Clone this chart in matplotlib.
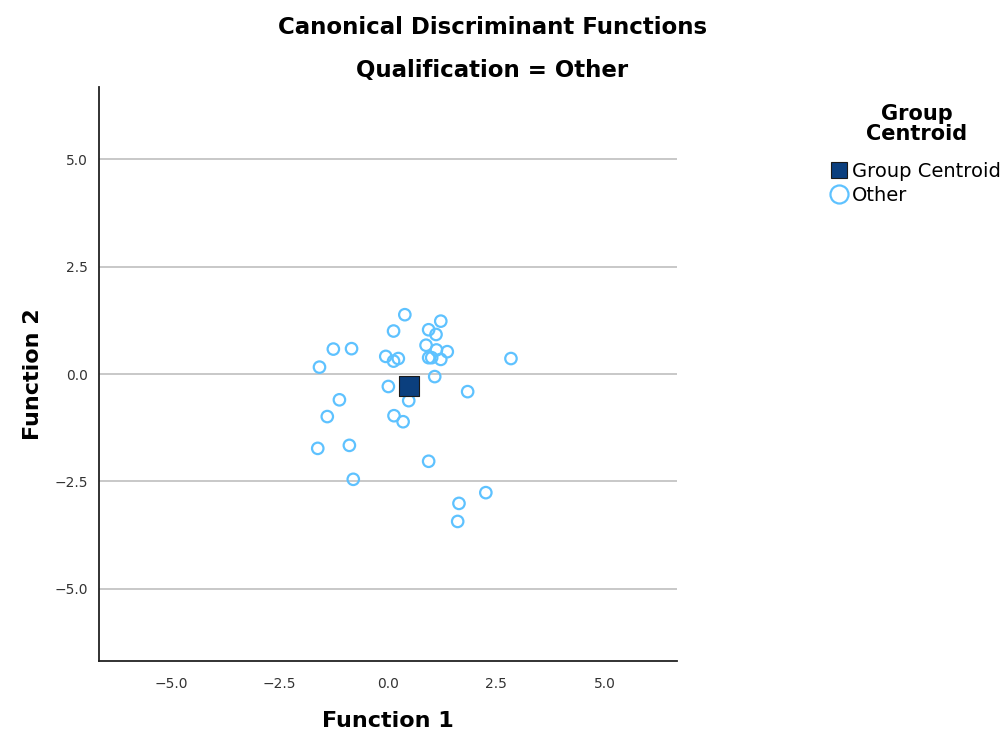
import matplotlib
matplotlib.use("Agg")
import matplotlib.pyplot as plt
from matplotlib.lines import Line2D

# Discriminant scores for the "Other" group
function1 = [0.39, 1.22, 0.13, 0.94, 1.11, -1.26, -0.84, 0.88, 1.12, 1.37,
             -0.05, 0.24, 0.13, 0.94, 1.01, 1.22, 2.84, -1.58, 1.08, 0.01,
             1.84, 0.48, -1.12, -1.40, 0.14, 0.35, -1.62, -0.89, 0.94, -0.80,
             2.26, 1.64, 1.61]
function2 = [1.38, 1.23, 1.00, 1.03, 0.92, 0.58, 0.59, 0.67, 0.56, 0.52,
             0.41, 0.36, 0.30, 0.38, 0.38, 0.34, 0.36, 0.16, -0.06, -0.29,
             -0.41, -0.62, -0.60, -0.99, -0.97, -1.11, -1.73, -1.66, -2.03, -2.45,
             -2.76, -3.01, -3.43]
centroid = (0.49, -0.28)
ticks = [-5.0, -2.5, 0.0, 2.5, 5.0]

point_color = "#5ec2ff"
centroid_color = "#0b3f7e"

fig = plt.figure(figsize=(10.05, 7.32), dpi=100)
ax = fig.add_axes([0.0985, 0.0974, 0.575, 0.7833])

ax.scatter(function1, function2, s=68, facecolors="none",
           edgecolors=point_color, linewidths=1.6, zorder=3)
ax.scatter([centroid[0]], [centroid[1]], s=190, marker="s",
           color=centroid_color, edgecolors="#1a1a1a", linewidths=0.8, zorder=4)

ax.set_xlim(-6.67, 6.67)
ax.set_ylim(-6.67, 6.67)
ax.set_xticks(ticks)
ax.set_yticks(ticks)
ax.set_xticklabels([f"{t:.1f}".replace("-", "\u2212") for t in ticks])
ax.set_yticklabels([f"{t:.1f}".replace("-", "\u2212") for t in ticks])
ax.tick_params(length=0, labelsize=10, colors="#333333")
ax.tick_params(axis="x", pad=12)
ax.tick_params(axis="y", pad=8)
ax.yaxis.grid(True, color="#c4c4c4", linewidth=1.3)
ax.set_axisbelow(True)
for side in ["top", "right"]:
    ax.spines[side].set_visible(False)
for side in ["left", "bottom"]:
    ax.spines[side].set_color("#222222")
    ax.spines[side].set_linewidth(1.3)

ax.set_xlabel("Function 1", fontsize=16, fontweight="bold", labelpad=14)
ax.set_ylabel("Function 2", fontsize=16, fontweight="bold", labelpad=8)

fig.text(0.49, 0.963, "Canonical Discriminant Functions", ha="center",
         va="center", fontsize=16.5, fontweight="bold")
fig.text(0.49, 0.904, "Qualification = Other", ha="center",
         va="center", fontsize=16.5, fontweight="bold")

# legend heading drawn on its own so the spacing below it can be set freely
fig.text(0.912, 1 - 124 / 732, "Group\nCentroid", ha="center", va="center",
         fontsize=15, fontweight="bold", linespacing=1.05)

handles = [
    Line2D([], [], marker="s", linestyle="none", markersize=12,
           markerfacecolor=centroid_color, markeredgecolor="#1a1a1a",
           markeredgewidth=0.8),
    Line2D([], [], marker="o", linestyle="none", markersize=13,
           markerfacecolor="none", markeredgecolor=point_color,
           markeredgewidth=1.6),
]
fig.legend(handles, ["Group Centroid", "Other"], loc="upper left",
           bbox_to_anchor=(0.826, 1 - 162 / 732), frameon=False, fontsize=14,
           handlelength=0.9, handletextpad=0.2, labelspacing=0.25,
           borderpad=0, borderaxespad=0)

fig.savefig("out.png", dpi=100)
